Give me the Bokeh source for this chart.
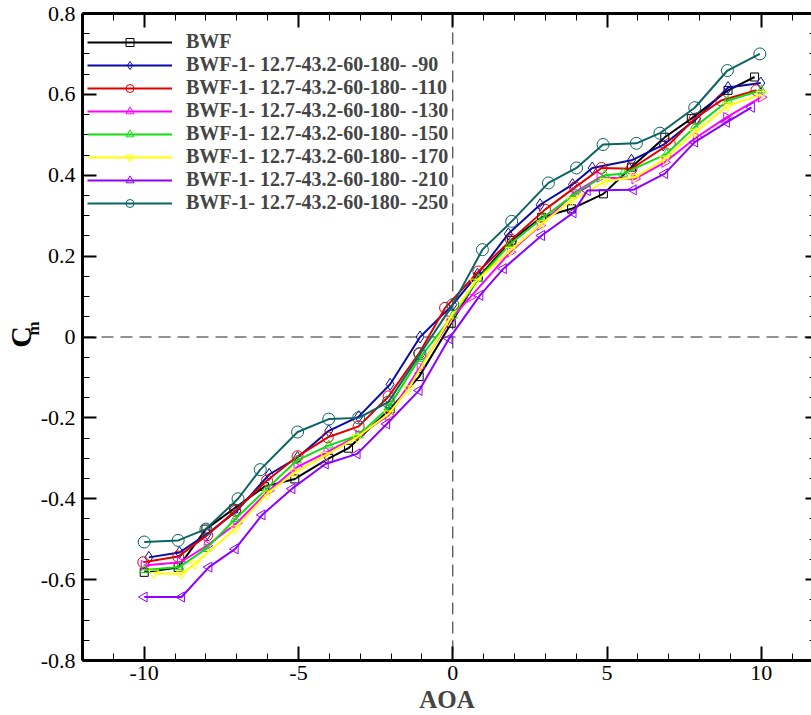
import math
from bokeh.plotting import figure
from bokeh.models import (Range1d, LinearAxis, SingleIntervalTicker, FixedTicker, Span,
                          Legend, LegendItem, CustomJSTickFormatter)
from bokeh.embed import file_html
from bokeh.resources import INLINE

# ---------------- data ----------------
bwf_x = [-10, -8.9, -8, -7.1, -6.1, -5.12, -4.02, -3.38, -2.03, -1.09, -0.05, 0.83, 1.91, 2.88, 3.85, 4.88, 5.79, 6.87, 7.73, 8.92, 9.78]
bwf_y = [-0.582, -0.570, -0.475, -0.425, -0.370, -0.351, -0.300, -0.275, -0.178, -0.098, 0.034, 0.148, 0.239, 0.296, 0.317, 0.354, 0.420, 0.494, 0.540, 0.610, 0.643]

s90_x = [-9.85, -8.86, -7.96, -7.0, -5.95, -5.03, -4.02, -3.05, -2.03, -1.06, 0.0, 0.8, 1.8, 2.83, 3.88, 4.52, 5.79, 6.82, 7.9, 8.92, 9.98]
s90_y = [-0.545, -0.533, -0.487, -0.430, -0.340, -0.298, -0.232, -0.197, -0.117, 0.0, 0.080, 0.155, 0.255, 0.327, 0.377, 0.418, 0.437, 0.475, 0.540, 0.617, 0.628]

s110_x = [-10.03, -8.9, -7.96, -7.05, -6.02, -5.03, -4.05, -3.05, -2.08, -1.09, -0.25, 0.83, 1.89, 2.99, 3.96, 4.82, 5.79, 7.03, 7.84, 8.7, 9.84]
s110_y = [-0.557, -0.543, -0.490, -0.430, -0.355, -0.295, -0.248, -0.221, -0.147, -0.040, 0.072, 0.162, 0.240, 0.315, 0.370, 0.418, 0.416, 0.478, 0.540, 0.585, 0.610]

s130_x = [-10, -8.83, -7.96, -7.0, -5.97, -5.05, -4.08, -3.05, -2.08, -1.06, -0.09, 0.56, 1.86, 2.83, 3.96, 4.77, 5.9, 6.87, 7.9, 8.87, 10.0]
s130_y = [-0.565, -0.557, -0.516, -0.460, -0.380, -0.322, -0.285, -0.243, -0.194, -0.075, 0.041, 0.098, 0.210, 0.276, 0.358, 0.395, 0.391, 0.432, 0.494, 0.543, 0.593]

s150_x = [-10, -8.86, -8, -7.05, -6.02, -5.05, -4.02, -3.05, -2.08, -1.09, 0, 0.83, 1.86, 2.94, 3.96, 4.93, 5.52, 6.93, 7.84, 8.92, 10]
s150_y = [-0.576, -0.569, -0.524, -0.450, -0.375, -0.305, -0.268, -0.243, -0.174, -0.054, 0.053, 0.144, 0.230, 0.296, 0.354, 0.400, 0.404, 0.453, 0.519, 0.585, 0.610]

s170_x = [-9.69, -8.79, -8.36, -7.05, -6.02, -5.1, -4.13, -3.1, -2.08, -1.43, -0.14, 0.72, 1.86, 2.88, 3.85, 4.93, 5.9, 6.87, 7.84, 8.92, 10]
s170_y = [-0.584, -0.586, -0.561, -0.474, -0.388, -0.334, -0.293, -0.248, -0.190, -0.128, 0.041, 0.136, 0.214, 0.280, 0.338, 0.385, 0.395, 0.440, 0.506, 0.572, 0.600]

s210_x = [-10, -8.79, -7.9, -7.05, -6.18, -5.21, -4.13, -3.1, -2.14, -1.09, -0.12, 0.88, 1.64, 2.88, 3.9, 4.36, 5.85, 6.87, 7.84, 8.87, 9.68]
s210_y = [-0.643, -0.643, -0.569, -0.524, -0.440, -0.375, -0.314, -0.289, -0.215, -0.132, -0.004, 0.103, 0.169, 0.251, 0.307, 0.362, 0.364, 0.404, 0.482, 0.531, 0.568]

s250_x = [-10, -8.9, -8, -6.96, -6.24, -5.03, -4.02, -3.05, -2.09, -1.06, 0, 0.96, 1.91, 3.1, 4.01, 4.87, 5.95, 6.71, 7.84, 8.9, 9.95]
s250_y = [-0.507, -0.503, -0.475, -0.400, -0.328, -0.235, -0.203, -0.200, -0.161, -0.042, 0.080, 0.216, 0.286, 0.381, 0.418, 0.476, 0.479, 0.504, 0.567, 0.659, 0.700]

labels = ["BWF",
          "BWF-1- 12.7-43.2-60-180- -90",
          "BWF-1- 12.7-43.2-60-180- -110",
          "BWF-1- 12.7-43.2-60-180- -130",
          "BWF-1- 12.7-43.2-60-180- -150",
          "BWF-1- 12.7-43.2-60-180- -170",
          "BWF-1- 12.7-43.2-60-180- -210",
          "BWF-1- 12.7-43.2-60-180- -250"]
xs = [bwf_x, s90_x, s110_x, s130_x, s150_x, s170_x, s210_x, s250_x]
ys = [bwf_y, s90_y, s110_y, s130_y, s150_y, s170_y, s210_y, s250_y]
colors = ["#000000", "#0a0aa8", "#e00000", "#ff00ff", "#11dd11", "#ffff00", "#8f00ff", "#0a6464"]
markers = ["square", "diamond", "circle", "triangle", "triangle", "inverted_triangle", "triangle", "circle"]
angles = [0, 0, 0, -math.pi / 2, 0, 0, math.pi / 2, 0]
sizes = [8, 12, 11, 10, 9, 10, 10, 12]

SERIF = "Liberation Serif"
W, H = 811, 715
LEFT, TOP, RIGHT_EST = 80, 13, 1
PX_PER_UNIT = 30.9
x_end = -12 + (W - LEFT - RIGHT_EST) / PX_PER_UNIT

p = figure(width=W, height=H,
           x_range=Range1d(-12, x_end), y_range=Range1d(-0.8, 0.8),
           output_backend="svg", toolbar_location=None,
           min_border_left=LEFT, min_border_top=TOP, min_border_bottom=0,
           min_border_right=0)
p.outline_line_color = None
p.xgrid.visible = False
p.ygrid.visible = False
p.background_fill_color = "white"

xt = SingleIntervalTicker(interval=5, num_minor_ticks=5)
yt = SingleIntervalTicker(interval=0.2, num_minor_ticks=4)
fmt = CustomJSTickFormatter(code="""
    if (Math.abs(tick) < 1e-9) return '0';
    var r = Math.round(tick);
    if (Math.abs(tick - r) < 1e-9) return String(r);
    return tick.toFixed(1);
""")
blank = CustomJSTickFormatter(code="return '';")


def style_axis(ax):
    ax.axis_line_width = 3
    ax.axis_line_color = "black"
    ax.major_tick_in = 14
    ax.major_tick_out = 0
    ax.minor_tick_in = 7
    ax.minor_tick_out = 0
    ax.major_tick_line_width = 2
    ax.minor_tick_line_width = 1
    ax.major_tick_line_color = "black"
    ax.minor_tick_line_color = "black"


xa = p.xaxis[0]
ya = p.yaxis[0]
for ax, t in ((xa, xt), (ya, yt)):
    ax.ticker = t
    ax.formatter = fmt
    style_axis(ax)
    ax.major_label_text_font = SERIF
    ax.major_label_text_font_style = "normal"
    ax.major_label_text_font_size = "22px"
    ax.major_label_text_color = "black"
xa.major_label_standoff = 5
ya.major_label_standoff = 7
xa.axis_label = "AOA"
xa.axis_label_text_font = SERIF
xa.axis_label_text_font_style = "bold"
xa.axis_label_text_font_size = "25px"
xa.axis_label_standoff = 3

# y-axis title: "C" with subscript "m"
ya.axis_label = "\u00a0\u00a0\u00a0\u00a0m"
ya.axis_label_text_font = SERIF
ya.axis_label_text_font_style = "bold"
ya.axis_label_text_font_size = "17px"
ya.axis_label_text_color = "black"
ya.axis_label_standoff = -5

c_ax = LinearAxis(ticker=FixedTicker(ticks=[]), formatter=blank)
c_ax.axis_line_alpha = 0
c_ax.major_tick_in = 0
c_ax.major_tick_out = 0
c_ax.minor_tick_in = 0
c_ax.minor_tick_out = 0
c_ax.major_label_standoff = 0
c_ax.major_label_text_font_size = "1px"
c_ax.axis_label = "C"
c_ax.axis_label_text_font = SERIF
c_ax.axis_label_text_font_style = "bold"
c_ax.axis_label_text_font_size = "30px"
c_ax.axis_label_text_color = "black"
c_ax.axis_label_standoff = -16
p.add_layout(c_ax, "left")

top_ax = LinearAxis(ticker=xt, formatter=blank)
style_axis(top_ax)
top_ax.major_label_text_font_size = "1px"
top_ax.major_label_standoff = 0
p.add_layout(top_ax, "above")

right_ax = LinearAxis(ticker=yt, formatter=blank)
style_axis(right_ax)
right_ax.major_label_text_font_size = "1px"
right_ax.major_label_standoff = 0
right_ax.axis_line_alpha = 0
right_ax.axis_line_width = 1
right_ax.major_tick_in = 6
right_ax.minor_tick_in = 2
p.add_layout(right_ax, "right")

p.add_layout(Span(location=0, dimension="height", line_color="#222222", line_width=1,
                  line_dash="12 7", level="underlay"))
p.add_layout(Span(location=0, dimension="width", line_color="#222222", line_width=1,
                  line_dash="12 7", level="underlay"))

items = []
for lab, x, y, c, m, a, s in zip(labels, xs, ys, colors, markers, angles, sizes):
    lr = p.line(x, y, line_color=c, line_width=2)
    sr = p.scatter(x, y, marker=m, size=s, angle=a, line_color=c, fill_color=None, line_width=1)
    items.append(LegendItem(label=lab, renderers=[lr, sr]))

legend = Legend(items=items, location=(0, 441), glyph_width=85, glyph_height=20,
                label_height=20, spacing=0, padding=5, margin=0, label_standoff=14,
                label_text_font=SERIF, label_text_font_style="bold",
                label_text_font_size="20px", background_fill_alpha=0,
                border_line_alpha=0)
p.add_layout(legend, "center")

open("out.html", "w").write(file_html(p, INLINE))
